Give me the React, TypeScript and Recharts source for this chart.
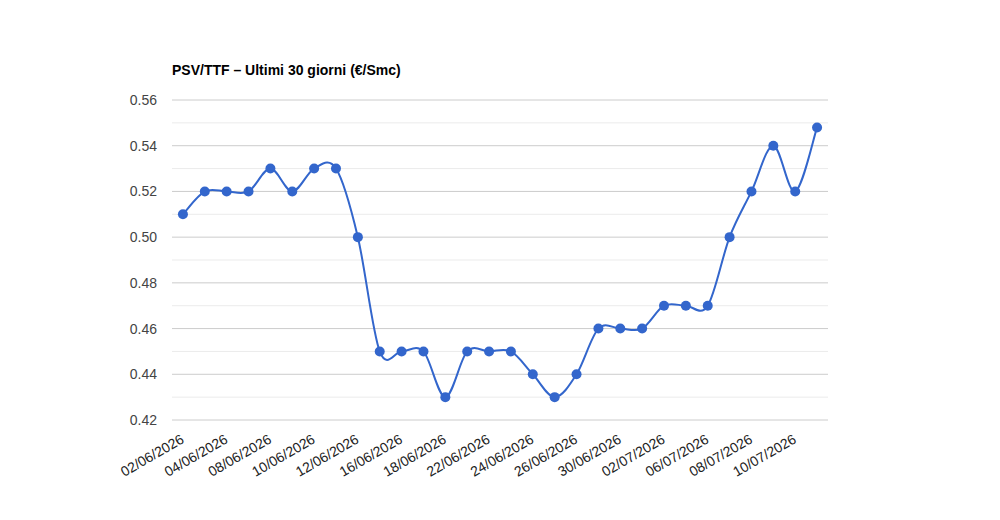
import { CartesianGrid, Line, LineChart, XAxis, YAxis } from "recharts"

const DATES = [
  "02/06/2026", "03/06/2026", "04/06/2026", "05/06/2026", "08/06/2026",
  "09/06/2026", "10/06/2026", "11/06/2026", "12/06/2026", "15/06/2026",
  "16/06/2026", "17/06/2026", "18/06/2026", "19/06/2026", "22/06/2026",
  "23/06/2026", "24/06/2026", "25/06/2026", "26/06/2026", "29/06/2026",
  "30/06/2026", "01/07/2026", "02/07/2026", "03/07/2026", "06/07/2026",
  "07/07/2026", "08/07/2026", "09/07/2026", "10/07/2026", "13/07/2026",
]

const PRICES = [
  0.51, 0.52, 0.52, 0.52, 0.53, 0.52, 0.53, 0.53, 0.5, 0.45,
  0.45, 0.45, 0.43, 0.45, 0.45, 0.45, 0.44, 0.43, 0.44, 0.46,
  0.46, 0.46, 0.47, 0.47, 0.47, 0.5, 0.52, 0.54, 0.52, 0.548,
]

// odd positions are the light minor lines, labels only on the even ones
const Y_TICKS = [
  0.42, 0.43, 0.44, 0.45, 0.46, 0.47, 0.48, 0.49,
  0.5, 0.51, 0.52, 0.53, 0.54, 0.55, 0.56,
]

const TITLE = "PSV/TTF – Ultimi 30 giorni (€/Smc)"

const FONT = "Arial, 'Liberation Sans', sans-serif"
const LINE_COLOR = "#3366cc"

const chartData = DATES.map((date, i) => ({ date, price: PRICES[i] }))

// Catmull-Rom style smoothing, close to the "function" curve of the original
const K = 1 / 6
function smoothCurve(context: any) {
  let pts: number[][] = []
  return {
    areaStart() {},
    areaEnd() {},
    lineStart() {
      pts = []
    },
    point(x: number, y: number) {
      pts.push([+x, +y])
    },
    lineEnd() {
      const n = pts.length
      if (!n) return
      context.moveTo(pts[0][0], pts[0][1])
      for (let i = 0; i < n - 1; i++) {
        const p0 = pts[Math.max(i - 1, 0)]
        const p1 = pts[i]
        const p2 = pts[i + 1]
        const p3 = pts[Math.min(i + 2, n - 1)]
        context.bezierCurveTo(
          p1[0] + (p2[0] - p0[0]) * K,
          p1[1] + (p2[1] - p0[1]) * K,
          p2[0] - (p3[0] - p1[0]) * K,
          p2[1] - (p3[1] - p1[1]) * K,
          p2[0],
          p2[1],
        )
      }
    },
  }
}

function GridLine(props: any) {
  const major = props.index % 2 === 0
  return (
    <line
      key={props.key}
      x1={props.x1}
      x2={props.x2}
      y1={props.y1}
      y2={props.y2}
      stroke={major ? "#cccccc" : "#ebebeb"}
      strokeWidth={1}
    />
  )
}

function DateTick(props: any) {
  const { x, y, payload } = props
  const ax = x + 2
  const ay = y + 22
  return (
    <text
      x={ax}
      y={ay}
      transform={`rotate(-30, ${ax}, ${ay})`}
      textAnchor="end"
      fontSize={14}
      fontFamily={FONT}
      fill="#222222"
    >
      {payload.value}
    </text>
  )
}

export default function App() {
  return (
    <div style={{ position: "absolute", left: 0, top: 0, width: 1000, height: 520, background: "#fff" }}>
      <svg width={1000} height={100} style={{ position: "absolute", left: 0, top: 0 }}>
        <text x={172} y={75} fontSize={14} fontWeight="bold" fontFamily={FONT} fill="#000">
          {TITLE}
        </text>
      </svg>
      <LineChart
        width={1000}
        height={520}
        data={chartData}
        margin={{ top: 100, right: 172, bottom: 40, left: 0 }}
      >
        <CartesianGrid vertical={false} horizontal={GridLine} />
        <XAxis
          dataKey="date"
          interval={1}
          height={60}
          axisLine={false}
          tickLine={false}
          tickSize={0}
          tickMargin={0}
          padding={{ left: 10.93, right: 10.93 }}
          tick={DateTick}
        />
        <YAxis
          width={172}
          domain={[0.42, 0.56]}
          ticks={Y_TICKS}
          interval={0}
          axisLine={false}
          tickLine={false}
          tickSize={0}
          tickMargin={15}
          tick={{ fontSize: 14, fontFamily: FONT, fill: "#444444" }}
          tickFormatter={(v: number, i: number) => (i % 2 === 0 ? v.toFixed(2) : "")}
        />
        <Line
          dataKey="price"
          type={smoothCurve as any}
          stroke={LINE_COLOR}
          strokeWidth={2}
          dot={{ r: 5, fill: LINE_COLOR, stroke: "none" }}
          activeDot={false}
          isAnimationActive={false}
        />
      </LineChart>
    </div>
  )
}
